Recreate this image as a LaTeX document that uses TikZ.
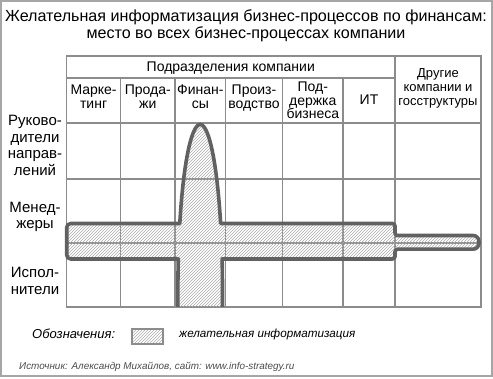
\documentclass[tikz,border=0pt]{standalone}
\usepackage{fontspec}
\setmainfont{Liberation Sans}
\usetikzlibrary{patterns}
\tikzset{
    frame/.style={draw=black!35, line width=2pt},
    tableline/.style={draw=black!45, line width=1.1pt},
    hatch/.style={pattern=north east lines, pattern color=black!32},
    infoband/.style={hatch, draw=black!62, line width=3.6pt, line join=round},
    legendbox/.style={rectangle, hatch, draw=black!45, line width=1.2pt, minimum width=31pt, minimum height=15pt, inner sep=0pt},
    title/.style={align=center, font=\fontsize{16.1}{17}\selectfont, inner sep=0pt},
    head/.style={align=center, font=\fontsize{14}{13.5}\selectfont, inner sep=0pt, anchor=north},
    other/.style={align=center, font=\fontsize{13}{14}\selectfont, inner sep=0pt, anchor=north},
    rowlabel/.style={align=center, font=\fontsize{15}{16.5}\selectfont, inner sep=0pt, anchor=north},
    note/.style={font=\fontsize{13}{14}\selectfont\itshape, inner sep=0pt, anchor=base west},
    source/.style={font=\fontsize{9.9}{11}\selectfont\itshape, text=black!70, inner sep=0pt, anchor=base west}
}

\begin{document}
\begin{tikzpicture}[x=1pt, y=-1pt]
        \useasboundingbox (0,0) rectangle (493,379);
        \fill[white] (0,0) rectangle (493,379);
        \draw[frame] (1,1) rectangle (491.5,376); % Frame

        % Title
        \node[title, anchor=north] (title) at (246,9.5) {Желательная информатизация бизнес-процессов по финансам:\\место во всех бизнес-процессах компании};

        % Table grid
        \draw[tableline] (66.7,56) rectangle (481,307);
        \draw[tableline] (66.7,78) -- (395,78);
        \draw[tableline] (66.7,123) -- (481,123);
        \draw[tableline] (66.7,179) -- (481,179);
        \draw[tableline] (66.7,243) -- (481,243);
        \draw[tableline] (120.5,78) -- (120.5,307);
        \draw[tableline] (175,78) -- (175,307);
        \draw[tableline] (225.5,78) -- (225.5,307);
        \draw[tableline] (282.5,78) -- (282.5,307);
        \draw[tableline] (343,78) -- (343,307);
        \draw[tableline] (395,56) -- (395,307);

        % Column headers
        \node[head] (units) at (230.8,61.5) {Подразделения компании};
        \node[head] (market) at (93.6,85) {Марке-\\тинг};
        \node[head] (sales) at (147.8,85) {Прода-\\жи};
        \node[head] (finance) at (200.3,85) {Финан-\\сы};
        \node[head] (product) at (254,85) {Произ-\\водство};
        \node[head] (support) at (312.8,81.7) {Под-\\держка\\бизнеса};
        \node[head] (it) at (369,95) {ИТ};
        \node[other] (others) at (438,68) {Другие\\компании и\\госструктуры};

        % Row labels
        \node[rowlabel] (heads) at (35,115) {Руково-\\дители\\направ-\\лений};
        \node[rowlabel] (managers) at (35,201.7) {Менед-\\жеры};
        \node[rowlabel] (workers) at (35,267) {Испол-\\нители};

        % Desired informatization: finance column and managers row
        \filldraw[infoband] (222.5,307)
            -- plot[domain=0:10.8, samples=6] ({200.2+22.3*cos(\x)}, {290-165.5*sin(\x)})
            -- (300,259) [rounded corners=2.5pt] -- (395,259) -- (395,249.2)
            [rounded corners=6pt] -- (479,249.2) -- (479,235.5)
            [rounded corners=2.5pt] -- (395,235.5) -- (395,223.5) -- (300,223.5)
            [sharp corners]
            -- plot[domain=23.69:156.31, samples=60] ({200.2+22.3*cos(\x)}, {290-165.5*sin(\x)})
            -- (120,223.5) [rounded corners=4pt] -- (66.7,223.5) -- (66.7,259) -- (120,259)
            [sharp corners]
            -- plot[domain=169.2:180, samples=6] ({200.2+22.3*cos(\x)}, {290-165.5*sin(\x)})
            -- (177.9,307);

        % Legend
        \node[note] (legend) at (32,338.5) {Обозначения:};
        \node[legendbox] (legbox) at (147.5,336.5) {};
        \node[note, font=\fontsize{11.7}{13}\selectfont\itshape] (legtext) at (179,337.5) {желательная информатизация};

        % Source
        \node[source] (src) at (19,370) {Источник: Александр Михайлов, сайт: www.info-strategy.ru};

    \end{tikzpicture}
\end{document}
